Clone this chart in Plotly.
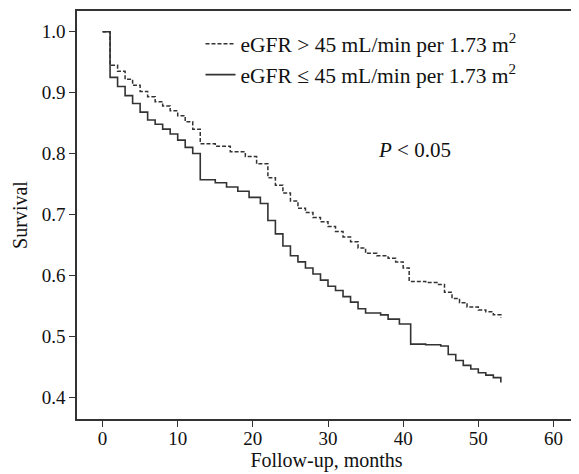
import plotly.graph_objects as go

# eGFR > 45 group (dashed)
t_high = [0, 1, 2, 3, 4, 5, 6, 7, 8, 9, 10, 11, 12, 13, 15, 17, 19, 20.5, 22, 23, 24, 25, 26, 27, 28, 29, 30,
          31, 32, 33, 34, 35, 36.5, 38, 39, 40, 40.8, 43, 44.5, 45.5, 46.5, 47.5, 48.5, 50, 51, 52, 53]
s_high = [1.0, 0.945, 0.935, 0.922, 0.912, 0.902, 0.893, 0.885, 0.878, 0.870, 0.862, 0.852, 0.840, 0.816,
          0.812, 0.803, 0.795, 0.783, 0.760, 0.748, 0.735, 0.722, 0.710, 0.703, 0.695, 0.688, 0.680,
          0.672, 0.663, 0.655, 0.645, 0.636, 0.632, 0.628, 0.622, 0.612, 0.590, 0.588, 0.585, 0.572,
          0.562, 0.555, 0.548, 0.543, 0.540, 0.535, 0.530]

# eGFR <= 45 group (solid)
t_low = [0, 1, 2, 3, 4, 5, 6, 7, 8, 9, 10, 11, 12, 13, 15, 16.5, 18, 19.5, 21, 22, 23, 24, 25, 26, 27, 28,
         29, 30, 31, 32, 33, 34, 35, 37, 38, 39.5, 41, 43, 45, 46, 47, 48, 49, 50, 51, 52, 53]
s_low = [1.0, 0.925, 0.910, 0.895, 0.882, 0.868, 0.855, 0.848, 0.840, 0.832, 0.822, 0.810, 0.800, 0.757,
         0.752, 0.745, 0.738, 0.728, 0.718, 0.690, 0.668, 0.648, 0.632, 0.622, 0.612, 0.602, 0.592,
         0.582, 0.575, 0.565, 0.556, 0.545, 0.538, 0.535, 0.528, 0.520, 0.487, 0.486, 0.484, 0.470,
         0.460, 0.452, 0.446, 0.440, 0.436, 0.432, 0.424]

x_ticks = [0, 10, 20, 30, 40, 50, 60]
y_ticks = [0.4, 0.5, 0.6, 0.7, 0.8, 0.9, 1.0]
y_tick_labels = ["0.4", "0.5", "0.6", "0.7", "0.8", "0.9", "1.0"]

FONT = "Liberation Serif, Times New Roman, serif"
INK = "#333333"

fig = go.Figure()
fig.add_trace(go.Scatter(
    x=t_high, y=s_high, mode="lines", line_shape="hv",
    line=dict(color=INK, width=1.5, dash="4px,2px"),
    name="eGFR > 45 mL/min per 1.73 m<sup>2</sup>"))
fig.add_trace(go.Scatter(
    x=t_low, y=s_low, mode="lines", line_shape="hv",
    line=dict(color=INK, width=1.6),
    name="eGFR ≤ 45 mL/min per 1.73 m<sup>2</sup>"))

fig.add_annotation(x=41.5, y=0.805, xref="x", yref="y", text="<i>P</i> < 0.05",
                   showarrow=False, font=dict(family=FONT, size=21, color="#111"))

# page body has an 8px default margin, so the figure is sized to fill the rest of the window
fig.update_layout(
    width=571, height=466,
    margin=dict(l=69, r=1, t=2, b=55),
    paper_bgcolor="white", plot_bgcolor="white",
    font=dict(family=FONT, size=19, color="#111"),
    showlegend=True,
    legend=dict(x=0.2475, y=0.97, xanchor="left", yanchor="top",
                bgcolor="rgba(0,0,0,0)", font=dict(family=FONT, size=21.5, color="#111"),
                itemwidth=30, tracegroupgap=0),
)
fig.update_xaxes(
    range=[-3.4, 63], tickvals=x_ticks, ticks="outside", ticklen=6, tickcolor=INK,
    ticklabelstandoff=-5,
    showline=True, linecolor=INK, linewidth=1.5, mirror=True, showgrid=False, zeroline=False,
    title=dict(text="Follow-up, months", standoff=2, font=dict(family=FONT, size=20)),
    tickfont=dict(family=FONT, size=19))
fig.update_yaxes(
    range=[0.364, 1.034], tickvals=y_ticks, ticktext=y_tick_labels, ticks="outside", ticklen=6,
    tickcolor=INK, showline=True, linecolor=INK, linewidth=1.5, mirror=True, showgrid=False,
    zeroline=False,
    title=dict(text="Survival", standoff=9, font=dict(family=FONT, size=20)),
    tickfont=dict(family=FONT, size=19))

fig.write_html("out.html")
